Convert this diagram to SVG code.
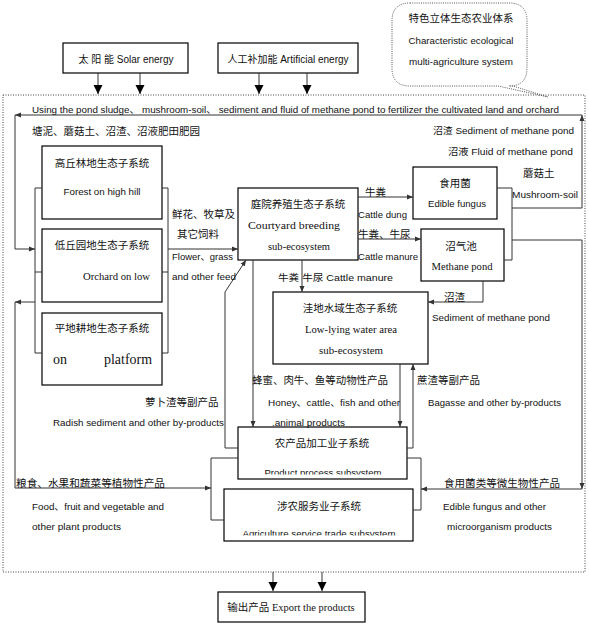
<svg xmlns="http://www.w3.org/2000/svg" width="589" height="625" viewBox="0 0 589 625">
<style>
.bx{fill:#fff;stroke:#000;stroke-width:1.2}
.ln{fill:none;stroke:#333;stroke-width:1}
.cn{font-family:"Noto Sans CJK SC","Liberation Sans",sans-serif;font-size:10.5px;fill:#111}
.en{font-family:"Liberation Sans","Noto Sans CJK SC",sans-serif;font-size:9.5px;fill:#111}
.se{font-family:"Liberation Serif","Noto Sans CJK SC",serif;font-size:11px;fill:#111}
.mid{text-anchor:middle}
</style>
<defs>
<marker id="a" markerUnits="userSpaceOnUse" markerWidth="7" markerHeight="6" refX="6" refY="3" orient="auto"><path d="M0,0.5 L6,3 L0,5.5 z" fill="#333"/></marker>
<marker id="b" markerUnits="userSpaceOnUse" markerWidth="10" markerHeight="10" refX="9" refY="5" orient="auto"><path d="M0,0.5 L9,5 L0,9.5 z" fill="#000"/></marker>
<clipPath id="cp1"><rect x="238" y="427" width="169" height="47.5"/></clipPath>
<clipPath id="cp2"><rect x="224" y="489" width="189" height="46.5"/></clipPath>
</defs>

<rect x="3" y="95" width="582" height="477" fill="none" stroke="#444" stroke-width="1" stroke-dasharray="1,1.5"/>

<g id="bubble">
<path d="M410,3 H509 Q527,3 527,21 V68 Q527,86 509,86 H513 L548,97 L498,86 H410 Q392,86 392,68 V21 Q392,3 410,3 Z" fill="#fff" stroke="#555" stroke-width="1" stroke-dasharray="1,1.2"/>
<text class="cn mid" x="461" y="22">特色立体生态农业体系</text>
<text class="en mid" x="461" y="44" textLength="105" lengthAdjust="spacingAndGlyphs">Characteristic ecological</text>
<text class="en mid" x="461" y="65" textLength="104" lengthAdjust="spacingAndGlyphs">multi-agriculture system</text>
</g>

<g id="solar">
<rect class="bx" x="63" y="43" width="125" height="30"/>
<text class="en mid" x="126" y="62.5" style="font-size:10px">太 阳 能 Solar energy</text>
</g>
<g id="artificial">
<rect class="bx" x="218" y="43" width="140" height="30"/>
<text class="en mid" x="288" y="62.5" style="font-size:10px">人工补加能 Artificial energy</text>
</g>

<g id="forest">
<rect class="bx" x="42" y="146" width="120" height="73"/>
<text class="cn mid" x="102" y="167">高丘林地生态子系统</text>
<text class="en mid" x="102" y="194.5" textLength="77" lengthAdjust="spacingAndGlyphs">Forest on high hill</text>
</g>
<g id="orchard">
<rect class="bx" x="42" y="229" width="120" height="73"/>
<text class="cn mid" x="102" y="249">低丘园地生态子系统</text>
<text class="se" x="83" y="280" textLength="67" lengthAdjust="spacingAndGlyphs">Orchard on low</text>
</g>
<g id="platform">
<rect class="bx" x="42" y="313" width="120" height="72"/>
<text class="cn mid" x="102" y="332">平地耕地生态子系统</text>
<text class="se" x="53" y="364" style="font-size:14px">on</text>
<text class="se" x="104" y="364" style="font-size:14px" textLength="48" lengthAdjust="spacingAndGlyphs">platform</text>
</g>

<g id="courtyard">
<rect class="bx" x="238" y="188" width="120" height="72"/>
<text class="cn mid" x="298" y="208">庭院养殖生态子系统</text>
<text class="se mid" x="294" y="229" textLength="92" lengthAdjust="spacingAndGlyphs">Courtyard breeding</text>
<text class="se mid" x="299" y="250" textLength="62" lengthAdjust="spacingAndGlyphs">sub-ecosystem</text>
</g>

<g id="fungus">
<rect class="bx" x="413" y="167" width="84" height="52"/>
<text class="cn mid" x="455" y="187">食用菌</text>
<text class="en mid" x="457" y="206.5" textLength="58" lengthAdjust="spacingAndGlyphs">Edible fungus</text>
</g>
<g id="methane">
<rect class="bx" x="421" y="229" width="83" height="52"/>
<text class="cn mid" x="461" y="250">沼气池</text>
<text class="se mid" x="462" y="270" textLength="61" lengthAdjust="spacingAndGlyphs">Methane pond</text>
</g>

<g id="lowlying">
<rect class="bx" x="273" y="292" width="155" height="72"/>
<text class="cn mid" x="350" y="312">洼地水域生态子系统</text>
<text class="se mid" x="351" y="333" textLength="92" lengthAdjust="spacingAndGlyphs">Low-lying water area</text>
<text class="se mid" x="351" y="354" textLength="64" lengthAdjust="spacingAndGlyphs">sub-ecosystem</text>
</g>

<g id="product">
<rect class="bx" x="238" y="427" width="169" height="52"/>
<text class="cn mid" x="322" y="447">农产品加工业子系统</text>
<text class="en mid" x="323" y="476" clip-path="url(#cp1)" textLength="117" lengthAdjust="spacingAndGlyphs">Product process subsystem</text>
</g>
<g id="service">
<rect class="bx" x="224" y="489" width="189" height="52"/>
<text class="cn mid" x="319" y="510">涉农服务业子系统</text>
<text class="en mid" x="319" y="537" clip-path="url(#cp2)" textLength="153" lengthAdjust="spacingAndGlyphs">Agriculture service trade subsystem</text>
</g>

<g id="export">
<rect class="bx" x="218" y="592" width="147" height="30"/>
<text class="se mid" x="291" y="611" style="font-size:10.5px">输出产品 Export the products</text>
</g>

<g id="connectors">
<path class="ln" d="M98,73 V94" stroke="#000" marker-end="url(#b)"/>
<path class="ln" d="M140,73 V94" stroke="#000" marker-end="url(#b)"/>
<path class="ln" d="M259,73 V94" stroke="#000" marker-end="url(#b)"/>
<path class="ln" d="M307,73 V94" stroke="#000" marker-end="url(#b)"/>
<path class="ln" d="M273,572 V591" stroke="#000" marker-end="url(#b)"/>
<path class="ln" d="M322,572 V591" stroke="#000" marker-end="url(#b)"/>

<path class="ln" d="M512,208 H582 V115" marker-end="url(#a)"/>
<path class="ln" d="M582,115 H15" marker-end="url(#a)"/>
<path class="ln" d="M15,115 V249 H35" marker-end="url(#a)"/>

<path class="ln" d="M42,188 H35 V353 H42 M35,272 H42"/>
<path class="ln" d="M162,188 H168 V353 H162 M162,272 H168"/>
<path class="ln" d="M168,249 H238" marker-end="url(#a)"/>
<path class="ln" d="M35,302 H15" marker-end="url(#a)"/>
<path class="ln" d="M15,302 V488 H211" marker-end="url(#a)"/>

<path class="ln" d="M238,448 H225 V292 L246,260" marker-end="url(#a)"/>
<path class="ln" d="M358,197 H413" marker-end="url(#a)"/>
<path class="ln" d="M358,239 H421" marker-end="url(#a)"/>
<path class="ln" d="M497,188 H512 V260 H504"/>
<path class="ln" d="M512,240 H582 V489" marker-end="url(#a)"/>
<path class="ln" d="M582,489 H421" marker-end="url(#a)"/>
<path class="ln" d="M302,260 V292" marker-end="url(#a)"/>
<path class="ln" d="M483,281 V302 H428" marker-end="url(#a)"/>
<path class="ln" d="M253,260 V427" marker-end="url(#a)"/>
<path class="ln" d="M400,364 V427" marker-end="url(#a)"/>
<path class="ln" d="M407,448 H413 V364" marker-end="url(#a)"/>
<path class="ln" d="M238,458 H211 V520 H224"/>
<path class="ln" d="M407,458 H421 V510 H413"/>
</g>

<g id="labels">
<text class="en" x="32" y="113" textLength="527" lengthAdjust="spacingAndGlyphs">Using the pond sludge、 mushroom-soil、 sediment and fluid of methane pond to fertilizer the cultivated land and orchard</text>
<text class="cn" x="32" y="135">塘泥、蘑菇土、沼渣、沼液肥田肥园</text>
<text class="en" x="433" y="133.5" textLength="141" lengthAdjust="spacingAndGlyphs">沼渣 Sediment of methane pond</text>
<text class="en" x="448" y="154.5" textLength="125" lengthAdjust="spacingAndGlyphs">沼液  Fluid of methane pond</text>
<text class="cn" x="523" y="177">蘑菇土</text>
<text class="en" x="512" y="197.5" textLength="66" lengthAdjust="spacingAndGlyphs">Mushroom-soil</text>
<text class="cn" x="172" y="218">鲜花、牧草及</text>
<text class="cn" x="177" y="238">其它饲料</text>
<text class="en" x="172" y="259.5" textLength="61" lengthAdjust="spacingAndGlyphs">Flower、grass</text>
<text class="en" x="172" y="279.5" textLength="64" lengthAdjust="spacingAndGlyphs">and other feed</text>
<text class="cn" x="365" y="196">牛粪</text>
<text class="en" x="358" y="217.5" textLength="49" lengthAdjust="spacingAndGlyphs">Cattle dung</text>
<text class="cn" x="358" y="238">牛粪、牛尿</text>
<text class="en" x="358" y="259.5" textLength="60" lengthAdjust="spacingAndGlyphs">Cattle manure</text>
<text class="en" x="278" y="280.5" textLength="115" lengthAdjust="spacingAndGlyphs">牛粪  牛尿  Cattle manure</text>
<text class="cn" x="444" y="301">沼渣</text>
<text class="en" x="432" y="320.5" textLength="118" lengthAdjust="spacingAndGlyphs">Sediment of methane pond</text>
<text class="cn" x="145" y="406">萝卜渣等副产品</text>
<text class="en" x="53" y="425.5" textLength="171" lengthAdjust="spacingAndGlyphs">Radish sediment and other by-products</text>
<text class="cn" x="252" y="384" textLength="136" lengthAdjust="spacingAndGlyphs">蜂蜜、肉牛、鱼等动物性产品</text>
<text class="en" x="268" y="405.5" textLength="132" lengthAdjust="spacingAndGlyphs">Honey、cattle、fish and other</text>
<text class="en" x="272" y="425.5" textLength="73" lengthAdjust="spacingAndGlyphs">.animal products</text>
<text class="cn" x="417" y="384">蔗渣等副产品</text>
<text class="en" x="428" y="405.5" textLength="133" lengthAdjust="spacingAndGlyphs">Bagasse and other by-products</text>
<text class="cn" x="16" y="487" textLength="149" lengthAdjust="spacingAndGlyphs">粮食、水果和蔬菜等植物性产品</text>
<text class="en" x="32" y="509.5" textLength="132" lengthAdjust="spacingAndGlyphs">Food、fruit and vegetable and</text>
<text class="en" x="32" y="529.5" textLength="89" lengthAdjust="spacingAndGlyphs">other plant products</text>
<text class="cn" x="444" y="487" textLength="116" lengthAdjust="spacingAndGlyphs">食用菌类等微生物性产品</text>
<text class="en" x="443" y="509.5" textLength="103" lengthAdjust="spacingAndGlyphs">Edible fungus and other</text>
<text class="en" x="447" y="529.5" textLength="105" lengthAdjust="spacingAndGlyphs">microorganism products</text>
</g>
</svg>
